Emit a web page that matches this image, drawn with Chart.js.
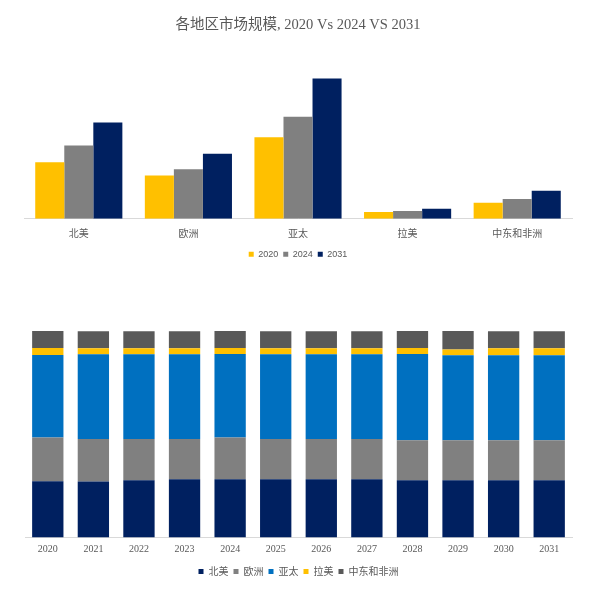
<!DOCTYPE html>
<html>
<head>
<meta charset="utf-8">
<script src="https://cdn.jsdelivr.net/npm/chart.js@4/dist/chart.umd.min.js"></script>
<style>
  html, body { margin: 0; padding: 0; background: #ffffff; }
  #wrap { position: relative; width: 598px; height: 590px; }
  #c1 { position: absolute; left: 0; top: 0; }
  #c2 { position: absolute; left: 0; top: 290px; }
</style>
</head>
<body>
<div id="wrap">
  <canvas id="c1" width="598" height="270"></canvas>
  <canvas id="c2" width="598" height="300"></canvas>
</div>
<script>
// ---- Chart 1: regional market size ----
const regions = ['北美', '欧洲', '亚太', '拉美', '中东和非洲'];
const size2020 = [56.7, 43.3, 81.7, 6.7, 16.0];
const size2024 = [73.3, 49.7, 102.0, 7.7, 19.7];
const size2031 = [96.3, 65.0, 140.3, 10.0, 28.0];
const yearSeriesLabels = ['2020', '2024', '2031'];

// ---- Chart 2: regional share by year (%) ----
const years = ['2020','2021','2022','2023','2024','2025','2026','2027','2028','2029','2030','2031'];
const shareNA   = [27.3, 27.1, 27.7, 28.2, 28.2, 28.2, 28.2, 28.2, 27.7, 27.7, 27.7, 27.7];
const shareEU   = [21.1, 20.6, 20.0, 19.5, 20.2, 19.5, 19.5, 19.5, 19.4, 19.4, 19.4, 19.4];
const shareAPAC = [40.0, 41.1, 41.1, 41.1, 40.5, 41.1, 41.1, 41.1, 41.8, 41.1, 41.1, 41.1];
const shareLATAM= [3.4, 2.9, 2.9, 2.9, 2.9, 2.9, 2.9, 2.9, 2.9, 2.9, 3.5, 3.5];
const shareMEA  = [8.2, 8.2, 8.2, 8.2, 8.2, 8.2, 8.2, 8.2, 8.2, 8.9, 8.2, 8.2];

const YELLOW = '#FFC000', GRAY = '#808080', NAVY = '#002060', BLUE = '#0070C0', DGRAY = '#595959';
const TXT = '#595959';
const CJK = "'Noto Sans CJK SC', 'Noto Sans', sans-serif";
const SERIF = "'Liberation Serif', 'Noto Sans CJK SC', serif";

new Chart(document.getElementById('c1'), {
  type: 'bar',
  data: {
    labels: regions,
    datasets: [
      { label: yearSeriesLabels[0], data: size2020, backgroundColor: YELLOW },
      { label: yearSeriesLabels[1], data: size2024, backgroundColor: GRAY },
      { label: yearSeriesLabels[2], data: size2031, backgroundColor: NAVY }
    ]
  },
  options: {
    responsive: false,
    animation: false,
    layout: { padding: { left: 24, right: 26, top: 0, bottom: 1.2 } },
    datasets: { bar: { categoryPercentage: 0.795, barPercentage: 1.0 } },
    plugins: {
      title: {
        display: true,
        text: '各地区市场规模, 2020 Vs 2024 VS 2031',
        color: TXT,
        font: { family: SERIF, size: 14.5, weight: 'normal' },
        padding: { top: 16.5, bottom: 25 }
      },
      legend: {
        position: 'bottom',
        labels: {
          boxWidth: 5, boxHeight: 5, padding: 5,
          color: TXT,
          font: { family: "'Liberation Sans', Arial, sans-serif", size: 9 }
        }
      },
      tooltip: { enabled: false }
    },
    scales: {
      x: {
        grid: { display: false, drawTicks: false },
        border: { display: true, color: '#d9d9d9', width: 1 },
        ticks: { color: TXT, padding: 8, font: { family: CJK, size: 10 } },
        afterFit: (s) => { s.height = 26; }
      },
      y: { display: false, min: 0, max: 160 }
    }
  }
});

new Chart(document.getElementById('c2'), {
  type: 'bar',
  data: {
    labels: years,
    datasets: [
      { label: '北美', data: shareNA, backgroundColor: NAVY },
      { label: '欧洲', data: shareEU, backgroundColor: GRAY },
      { label: '亚太', data: shareAPAC, backgroundColor: BLUE },
      { label: '拉美', data: shareLATAM, backgroundColor: YELLOW },
      { label: '中东和非洲', data: shareMEA, backgroundColor: DGRAY }
    ]
  },
  options: {
    responsive: false,
    animation: false,
    layout: { padding: { left: 25, right: 26, top: 41, bottom: 3.5 } },
    datasets: { bar: { categoryPercentage: 0.687, barPercentage: 1.0 } },
    plugins: {
      legend: {
        position: 'bottom',
        labels: {
          boxWidth: 5, boxHeight: 5, padding: 5,
          color: TXT,
          font: { family: CJK, size: 10 }
        }
      },
      tooltip: { enabled: false }
    },
    scales: {
      x: {
        stacked: true,
        grid: { display: false, drawTicks: false },
        border: { display: true, color: '#d9d9d9', width: 1 },
        ticks: { color: TXT, padding: 6, font: { family: SERIF, size: 10 } },
        afterFit: (s) => { s.height = 24; }
      },
      y: { display: false, stacked: true, min: 0, max: 100 }
    }
  }
});
</script>
</body>
</html>
